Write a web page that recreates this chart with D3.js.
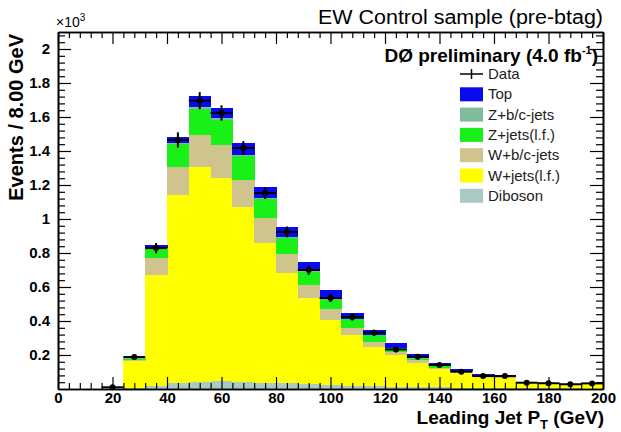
<!DOCTYPE html>
<html lang="en">
<head>
<meta charset="UTF-8">
<title>EW Control sample (pre-btag)</title>
<script src="https://cdn.jsdelivr.net/npm/d3@7"></script>
<style>
  body { margin: 0; background: #fff; }
  svg text { font-family: "Liberation Sans", Arial, sans-serif; }
</style>
</head>
<body>
<svg id="chart" width="621" height="432"></svg>
<script>
// bin low edges (GeV), bins are 8 GeV wide
const binLow = [0, 8, 16, 24, 32, 40, 48, 56, 64, 72, 80, 88, 96, 104, 112, 120, 128, 136, 144, 152, 160, 168, 176, 184, 192];
const binWidth = 8;

// stacked MC components, in thousands of events (bottom -> top)
const diboson = [0, 0, 0, 0.008, 0.02, 0.035, 0.042, 0.045, 0.042, 0.038, 0.033, 0.028, 0.024, 0.02, 0.016, 0.013, 0.011, 0.009, 0.007, 0.006, 0.005, 0.004, 0.003, 0.003, 0.002];
const wjetsLF = [0, 0, 0, 0.157, 0.651, 1.106, 1.264, 1.196, 1.029, 0.821, 0.649, 0.507, 0.382, 0.298, 0.231, 0.187, 0.144, 0.107, 0.085, 0.064, 0.06, 0.03, 0.027, 0.02, 0.026];
const wbcJets = [0, 0, 0, 0.007, 0.1, 0.165, 0.188, 0.194, 0.158, 0.147, 0.112, 0.077, 0.065, 0.041, 0.029, 0.02, 0.013, 0.008, 0.006, 0.004, 0.004, 0.002, 0.001, 0.001, 0.001];
const zjetsLF = [0, 0, 0, 0.006, 0.054, 0.134, 0.156, 0.15, 0.139, 0.111, 0.094, 0.077, 0.054, 0.05, 0.04, 0.018, 0.01, 0.009, 0.006, 0.004, 0.004, 0.002, 0.002, 0.001, 0.002];
const zbcJets = [0, 0, 0, 0.002, 0.004, 0.007, 0.009, 0.009, 0.008, 0.007, 0.006, 0.005, 0.004, 0.003, 0.002, 0.002, 0.002, 0.002, 0.001, 0.001, 0.001, 0.001, 0.001, 0.001, 0.001];
const topQuark = [0, 0, 0, 0.005, 0.018, 0.035, 0.065, 0.059, 0.071, 0.064, 0.059, 0.053, 0.053, 0.035, 0.029, 0.032, 0.024, 0.016, 0.011, 0.007, 0.006, 0.004, 0.003, 0.003, 0.003];

// data points and their errors
const dataVals = [0, 0, 0.01, 0.188, 0.829, 1.465, 1.696, 1.624, 1.418, 1.153, 0.924, 0.70, 0.535, 0.424, 0.331, 0.233, 0.19, 0.141, 0.102, 0.076, 0.076, 0.037, 0.034, 0.028, 0.033];
const dataErr  = [0, 0, 0.003, 0.014, 0.03, 0.045, 0.05, 0.045, 0.04, 0.035, 0.032, 0.028, 0.024, 0.021, 0.018, 0.016, 0.014, 0.012, 0.01, 0.009, 0.009, 0.006, 0.006, 0.005, 0.006];

const xMajor = [0, 20, 40, 60, 80, 100, 120, 140, 160, 180, 200];
const yMajor = [0.2, 0.4, 0.6, 0.8, 1, 1.2, 1.4, 1.6, 1.8, 2];

const stackKeys = ["diboson", "wlf", "wbc", "zlf", "zbc", "top"];
const colors = {
  top: "#0a0af0", zbc: "#7dbc9c", zlf: "#18f018", wbc: "#cfc38e", wlf: "#ffff00", diboson: "#a9c9c2"
};
const legendLabels = ["Data", "Top", "Z+b/c-jets", "Z+jets(l.f.)", "W+b/c-jets", "W+jets(l.f.)", "Diboson"];
const legendKeys = [null, "top", "zbc", "zlf", "wbc", "wlf", "diboson"];

const plotL = 58, plotR = 603, plotT = 32, plotB = 389;

const x = d3.scaleLinear().domain([0, 200]).range([plotL, plotR]);
const y = d3.scaleLinear().domain([0, 2.1]).range([plotB, plotT]);

const svg = d3.select("#chart");

const rows = binLow.map((b, i) => ({
  low: b, diboson: diboson[i], wlf: wjetsLF[i], wbc: wbcJets[i], zlf: zjetsLF[i], zbc: zbcJets[i], top: topQuark[i]
}));
const series = d3.stack().keys(stackKeys)(rows);

svg.append("g").attr("shape-rendering", "crispEdges").selectAll("g")
  .data(series)
  .join("g")
  .attr("fill", d => colors[d.key])
  .selectAll("rect")
  .data(d => d)
  .join("rect")
  .attr("x", d => x(d.data.low))
  .attr("width", d => x(d.data.low + binWidth) - x(d.data.low) + 0.5)
  .attr("y", d => y(d[1]))
  .attr("height", d => Math.max(0, y(d[0]) - y(d[1])));

// data points
const pts = binLow.map((b, i) => ({ low: b, v: dataVals[i], e: dataErr[i] })).filter(d => d.v > 0);
const dg = svg.append("g").attr("stroke", "#000").attr("stroke-width", 2);
dg.selectAll("line.h").data(pts).join("line").attr("class", "h")
  .attr("x1", d => x(d.low)).attr("x2", d => x(d.low + binWidth))
  .attr("y1", d => y(d.v)).attr("y2", d => y(d.v));
dg.selectAll("line.v").data(pts).join("line").attr("class", "v")
  .attr("x1", d => x(d.low + binWidth / 2)).attr("x2", d => x(d.low + binWidth / 2))
  .attr("y1", d => y(d.v - d.e)).attr("y2", d => y(d.v + d.e));
dg.selectAll("circle").data(pts).join("circle")
  .attr("cx", d => x(d.low + binWidth / 2)).attr("cy", d => y(d.v)).attr("r", 2).attr("fill", "#000");

// axes with inward ticks (major + minor), mirrored on top/right
const xMinor = d3.range(0, 201, 4).filter(v => v % 20 !== 0);
const yMinor = d3.range(0, 2.1, 0.04).map(v => +v.toFixed(2)).filter(v => Math.abs(v * 5 - Math.round(v * 5)) > 1e-6);

function styleAxis(g) {
  g.select(".domain").attr("stroke-width", 1.6);
  g.selectAll(".tick line").attr("stroke-width", 1.2);
  g.selectAll("text").attr("font-size", 15).attr("font-weight", "bold").attr("fill", "#000");
}

svg.append("g").attr("transform", `translate(0,${plotB})`)
  .call(d3.axisBottom(x).tickValues(xMajor).tickSize(-12).tickSizeOuter(0).tickPadding(3).tickFormat(d3.format("d")))
  .call(styleAxis);
svg.append("g").attr("transform", `translate(0,${plotB})`)
  .call(d3.axisBottom(x).tickValues(xMinor).tickSize(-6).tickSizeOuter(0).tickFormat(""))
  .call(styleAxis);
svg.append("g").attr("transform", `translate(0,${plotT})`)
  .call(d3.axisTop(x).tickValues(xMajor).tickSize(-12).tickSizeOuter(0).tickFormat(""))
  .call(styleAxis);
svg.append("g").attr("transform", `translate(0,${plotT})`)
  .call(d3.axisTop(x).tickValues(xMinor).tickSize(-6).tickSizeOuter(0).tickFormat(""))
  .call(styleAxis);

svg.append("g").attr("transform", `translate(${plotL},0)`)
  .call(d3.axisLeft(y).tickValues(yMajor).tickSize(-13).tickSizeOuter(0).tickPadding(8).tickFormat(d3.format("~g")))
  .call(styleAxis);
svg.append("g").attr("transform", `translate(${plotL},0)`)
  .call(d3.axisLeft(y).tickValues(yMinor).tickSize(-7).tickSizeOuter(0).tickFormat(""))
  .call(styleAxis);
svg.append("g").attr("transform", `translate(${plotR},0)`)
  .call(d3.axisRight(y).tickValues(yMajor).tickSize(-13).tickSizeOuter(0).tickFormat(""))
  .call(styleAxis);
svg.append("g").attr("transform", `translate(${plotR},0)`)
  .call(d3.axisRight(y).tickValues(yMinor).tickSize(-7).tickSizeOuter(0).tickFormat(""))
  .call(styleAxis);

// titles
svg.append("text").attr("x", plotR).attr("y", 24).attr("text-anchor", "end")
  .attr("font-size", 20).attr("textLength", 285).attr("lengthAdjust", "spacingAndGlyphs")
  .text("EW Control sample (pre-btag)");

const pre = svg.append("text").attr("x", 598).attr("y", 62).attr("text-anchor", "end")
  .attr("font-size", 19).attr("font-weight", "bold");
pre.append("tspan").text("DØ preliminary (4.0 fb");
pre.append("tspan").attr("font-size", 11).attr("dy", -8).text("-1");
pre.append("tspan").attr("dy", 8).text(")");

const mult = svg.append("text").attr("x", 56).attr("y", 27).attr("font-size", 14);
mult.append("tspan").text("×10");
mult.append("tspan").attr("font-size", 10).attr("dy", -6).text("3");

svg.append("text").attr("transform", "translate(23,34) rotate(-90)").attr("text-anchor", "end")
  .attr("font-size", 20).attr("font-weight", "bold").text("Events / 8.00 GeV");

const xl = svg.append("text").attr("x", 604).attr("y", 424).attr("text-anchor", "end")
  .attr("font-size", 19).attr("font-weight", "bold");
xl.append("tspan").text("Leading Jet P");
xl.append("tspan").attr("font-size", 13).attr("dy", 5).text("T");
xl.append("tspan").attr("dy", -5).text(" (GeV)");

// legend
const lg = svg.append("g");
const rowY = i => 74 + i * 20.3;
legendLabels.forEach((lab, i) => {
  const cy = rowY(i);
  if (legendKeys[i] === null) {
    lg.append("line").attr("x1", 460).attr("x2", 483).attr("y1", cy).attr("y2", cy).attr("stroke", "#000").attr("stroke-width", 1.5);
    lg.append("line").attr("x1", 471.5).attr("x2", 471.5).attr("y1", cy - 5).attr("y2", cy + 5).attr("stroke", "#000").attr("stroke-width", 1.5);
  } else {
    lg.append("rect").attr("x", 460).attr("y", cy - 7).attr("width", 23).attr("height", 14).attr("fill", colors[legendKeys[i]]);
  }
  lg.append("text").attr("x", 488).attr("y", cy + 5).attr("font-size", 15).attr("fill", "#222").text(lab);
});
</script>
</body>
</html>
